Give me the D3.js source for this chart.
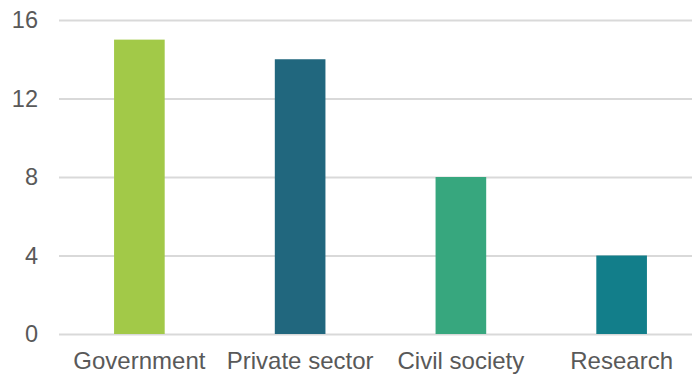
<!DOCTYPE html>
<html><head><meta charset="utf-8">
<script src="https://cdn.jsdelivr.net/npm/d3@7"></script>
<style>body{margin:0;background:#fff}svg{display:block}</style>
</head><body><svg id="c" width="692" height="376"></svg>
<script>
const categories = ["Government", "Private sector", "Civil society", "Research"];
const values = [15, 14, 8, 4];
const colors = ["#A2C948", "#21677E", "#37A77E", "#127E8A"];
const yTicks = [0, 4, 8, 12, 16];

(function () {
const svg = d3.select("#c");
const mLeft = 59, mRight = 702, mTop = 20, mBottom = 334;
const x = d3.scaleBand().domain(categories).range([mLeft, mRight]).paddingInner(0.685).paddingOuter(0.3425);
const y = d3.scaleLinear().domain([0, 16]).range([mBottom, mTop]);
const font = "'Liberation Sans', Arial, sans-serif";

const yAxis = svg.append("g").attr("transform", `translate(${mLeft},0)`)
  .call(d3.axisLeft(y).tickValues(yTicks).tickSize(-(mRight - mLeft)).tickPadding(21).tickFormat(d3.format("d")));
yAxis.select(".domain").remove();
yAxis.selectAll("line").attr("stroke", "#D9D9D9").attr("stroke-width", 1.8);
yAxis.selectAll("text").attr("fill", "#595959").attr("font-size", 23.5).attr("font-family", font);

svg.append("g").selectAll("rect").data(values).join("rect")
  .attr("x", (d, i) => x(categories[i]))
  .attr("width", x.bandwidth())
  .attr("y", d => y(d))
  .attr("height", d => y(0) - y(d))
  .attr("fill", (d, i) => colors[i]);

const xAxis = svg.append("g").attr("transform", `translate(0,${mBottom})`)
  .call(d3.axisBottom(x).tickSize(0).tickPadding(18));
xAxis.select(".domain").remove();
xAxis.selectAll("text").attr("fill", "#595959").attr("font-size", 24).attr("font-family", font);
})();
</script></body></html>
